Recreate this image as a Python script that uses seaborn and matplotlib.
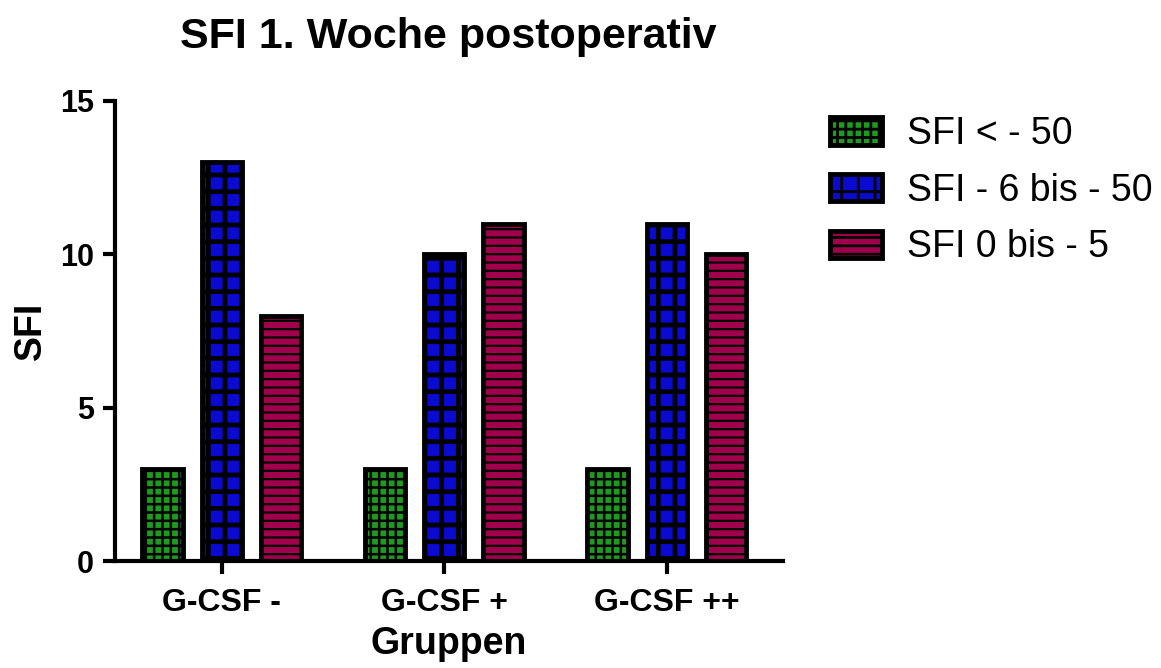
import pandas as pd
import seaborn as sns
from matplotlib import pyplot as plt

sns.set_theme(style="white")
plt.rcParams['font.family'] = ['Liberation Sans', 'DejaVu Sans']
plt.rcParams['text.color'] = "black"
plt.rcParams['axes.labelcolor'] = "black"
plt.rcParams['hatch.linewidth'] = 2.0

# Daten aus dem Diagramm
gruppen = ["G-CSF -", "G-CSF +", "G-CSF ++"]
kategorien = ["SFI < - 50", "SFI - 6 bis - 50", "SFI 0 bis - 5"]
werte_lt50 = [3, 3, 3]
werte_6_50 = [13, 10, 11]
werte_0_5 = [8, 11, 10]

farben = ["#1e9a1e", "#0a0ad0", "#a0004c"]
muster = ["++", "+", "--"]
muster_lw = [1.8, 3.4, 1.6]

df = pd.DataFrame({
    "Gruppen": gruppen * 3,
    "Kategorie": [kategorien[0]] * 3 + [kategorien[1]] * 3 + [kategorien[2]] * 3,
    "SFI": werte_lt50 + werte_6_50 + werte_0_5,
})

fig = plt.figure(figsize=(11.61, 6.68), dpi=100)
ax = fig.add_axes([0.099, 0.16, 0.575, 0.689])

sns.barplot(data=df, x="Gruppen", y="SFI", hue="Kategorie",
            palette=farben, gap=0.32, ax=ax, legend=False)

for cont, f, h, hlw in zip(ax.containers, farben, muster, muster_lw):
    cont.set_label(None)
    for p in cont.patches:
        p.set_facecolor(f)
        p.set_edgecolor("black")
        p.set_linewidth(3.5)
        p.set_hatch(h)
        if hasattr(p, "set_hatch_linewidth"):
            p.set_hatch_linewidth(hlw)

ax.set_ylim(0, 15)
ax.set_xlim(-0.48, 2.52)
ax.set_yticks([0, 5, 10, 15])
sns.despine(ax=ax)
for s in ["left", "bottom"]:
    ax.spines[s].set_linewidth(3)
    ax.spines[s].set_color("black")
ax.tick_params(axis="both", direction="out", length=9, width=3, colors="black",
               left=True, bottom=True)
ax.tick_params(axis="x", labelsize=23, pad=10)
ax.tick_params(axis="y", labelsize=22, pad=6)
for lab in ax.get_xticklabels() + ax.get_yticklabels():
    lab.set_fontweight("bold")

ax.set_xlabel("Gruppen", fontsize=27, fontweight="bold", labelpad=6)
ax.set_ylabel("SFI", fontsize=27, fontweight="bold", labelpad=8)
fig.suptitle("SFI 1. Woche postoperativ", x=0.386, y=0.975, va="top",
             fontsize=31, fontweight="bold")

ax.legend(handles=ax.containers, labels=kategorien,
          loc="upper left", bbox_to_anchor=(1.02, 1.04), frameon=False,
          fontsize=27, handlelength=1.4, handleheight=0.75,
          labelspacing=0.55, handletextpad=0.67)

plt.savefig("out.png", dpi=100)
